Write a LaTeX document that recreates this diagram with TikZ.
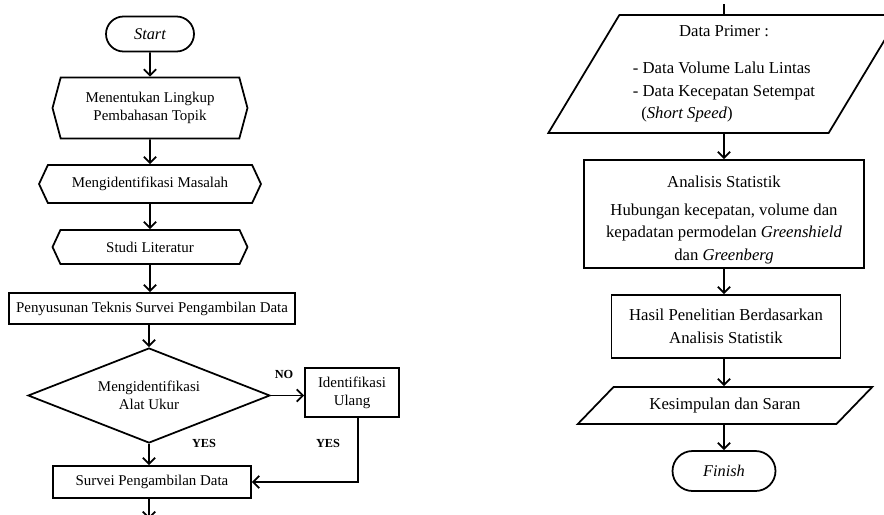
\documentclass[tikz,border=0pt]{standalone}
\usepackage{fontspec}
\setmainfont{Liberation Serif}
\usetikzlibrary{shapes.geometric,shapes.symbols,shapes.misc,arrows.meta}

\begin{document}
\begin{tikzpicture}[x=0.02cm, y=-0.02cm, line width=1pt, >={Straight Barb[length=3.5pt,width=7pt]},
  term/.style={draw, rounded rectangle, inner sep=0pt, font=\fontsize{9.3}{11}\selectfont\itshape},
  hexa/.style={draw, signal, signal to=west and east, inner sep=0pt, align=center, font=\fontsize{8.5}{10.2}\selectfont},
  box/.style={draw, rectangle, inner sep=0pt, align=center, font=\fontsize{8.5}{10.4}\selectfont},
  bigbox/.style={draw, rectangle, inner sep=0pt, align=center, font=\fontsize{9.5}{12.8}\selectfont},
  para/.style={draw, trapezium, trapezium stretches=true, inner sep=0pt, align=center, font=\fontsize{9.5}{12.8}\selectfont},
  lbl/.style={font=\fontsize{7}{8}\selectfont\bfseries}]
\clip (0,0) rectangle (884,514);

\node[term, minimum width=1.76cm, minimum height=0.7cm] (start) at (150,34) {Start};
\node[hexa, signal pointer angle=150, minimum width=3.9cm, minimum height=1.22cm] (lingkup) at (150,108) {Menentukan Lingkup\\Pembahasan Topik};
\node[hexa, signal pointer angle=130, minimum width=4.44cm, minimum height=0.76cm] (masalah) at (150,184) {Mengidentifikasi Masalah};
\node[hexa, signal pointer angle=130, minimum width=3.9cm, minimum height=0.68cm] (studi) at (150,247) {Studi Literatur};
\node[box, minimum width=5.72cm, minimum height=0.62cm] (susun) at (152,308.5) {Penyusunan Teknis Survei Pengambilan Data};
\node[draw, diamond, aspect=2.55, inner sep=0pt, align=center, minimum width=4.84cm, minimum height=1.9cm, font=\fontsize{8.5}{10}\selectfont] (alat) at (149,395.5) {Mengidentifikasi\\Alat Ukur};
\node[box, minimum width=1.88cm, minimum height=0.98cm] (ulang) at (352,392.5) {Identifikasi\\Ulang};
\node[box, minimum width=3.96cm, minimum height=0.64cm] (survei) at (152,482) {Survei Pengambilan Data};
\coordinate (lanjut) at (149,519);

\node[lbl] (no) at (284,374) {NO};
\node[lbl] (yes1) at (204,443) {YES};
\node[lbl] (yes2) at (328,443) {YES};

\draw[->] (start) -- (lingkup);
\draw[->] (lingkup) -- (masalah);
\draw[->] (masalah) -- (studi);
\draw[->] (studi.south) -- (studi.south |- susun.north);
\draw[->] (susun.south -| alat.north) -- (alat.north);
\draw[->] (alat.east) -- (alat.east -| ulang.west);
\draw[->] (alat.south) -- (alat.south |- survei.north);
\draw[->] ([xshift=0.12cm]ulang.south) |- (survei.east);
\draw[->] (survei.south -| lanjut) -- (lanjut);

\coordinate (masuk) at (724,4);
\node[para, trapezium left angle=59, trapezium right angle=121, minimum width=7.04cm, minimum height=2.36cm] (primer) at (724,74) {\rule{0pt}{8pt}Data Primer :\\[11pt]\begin{tabular}{@{}l@{}}- Data Volume Lalu Lintas\\- Data Kecepatan Setempat\\\ \ (\textit{Short Speed})\end{tabular}};
\node[bigbox, minimum width=5.6cm, minimum height=2.16cm] (analisis) at (724,214) {\rule{0pt}{13pt}Analisis Statistik\\[3pt]Hubungan kecepatan, volume dan\\kepadatan permodelan \textit{Greenshield}\\dan \textit{Greenberg}};
\node[bigbox, minimum width=4.58cm, minimum height=1.26cm] (hasil) at (726,326.5) {Hasil Penelitian Berdasarkan\\Analisis Statistik};
\node[para, trapezium left angle=32, trapezium right angle=148, minimum width=5.9cm, minimum height=0.74cm] (simpul) at (725,405.5) {Kesimpulan dan Saran};
\node[term, minimum width=2.06cm, minimum height=0.8cm] (finish) at (724,471) {Finish};

\draw (masuk) -- (primer.north);
\draw[->] (primer.south) -- (analisis.north);
\draw[->] (analisis.south) -- (analisis.south |- hasil.north);
\draw[->] (hasil.south -| analisis.south) -- (analisis.south |- simpul.north);
\draw[->] (simpul.south -| finish.north) -- (finish.north);
\end{tikzpicture}
\end{document}
